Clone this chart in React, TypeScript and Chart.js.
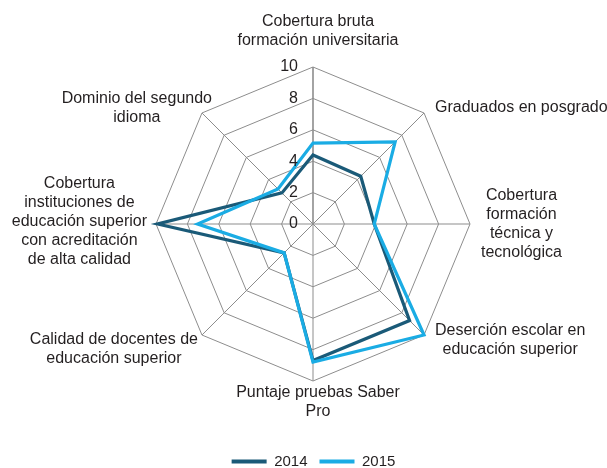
import React, { useEffect, useRef } from "react";
import { Chart, registerables } from "chart.js";

Chart.register(...registerables);

const categories: string[][] = [
  ["Cobertura bruta", "formación universitaria"],
  ["Graduados en posgrado"],
  ["Cobertura", "formación", "técnica y", "tecnológica"],
  ["Deserción escolar en", "educación superior"],
  ["Puntaje pruebas Saber", "Pro"],
  ["Calidad de docentes de", "educación superior"],
  ["Cobertura", "instituciones de", "educación superior", "con acreditación", "de alta calidad"],
  ["Dominio del segundo", "idioma"],
];

const series2014: number[] = [4.4, 4.3, 3.9, 8.7, 8.7, 2.6, 9.9, 2.8];
const series2015: number[] = [5.15, 7.4, 3.9, 10.0, 8.8, 2.6, 7.35, 3.15];

const tickValues: number[] = [0, 2, 4, 6, 8, 10];

const FONT = '"Liberation Sans", Arial, Helvetica, sans-serif';
const TEXT = "#231f20";
const GRID = "#8d8d8d";
const C2014 = "#1a5a78";
const C2015 = "#1aace4";

const labelPlugin = {
  id: "customLabels",
  afterDatasetsDraw(chart: any) {
    const scale = chart.scales.r;
    const ctx = chart.ctx;
    const xc = scale.xCenter;
    const yc = scale.yCenter;
    const r = scale.drawingArea;
    ctx.save();
    ctx.fillStyle = TEXT;
    // tick labels
    ctx.font = `16px ${FONT}`;
    ctx.textAlign = "right";
    ctx.textBaseline = "middle";
    tickValues.forEach((v) => {
      const p = scale.getPointPositionForValue(0, v);
      ctx.fillText(String(v), p.x - 15, p.y);
    });
    // point labels
    ctx.font = `16px ${FONT}`;
    ctx.textAlign = "center";
    const lh = 19;
    categories.forEach((lines, i) => {
      const pos = scale.getPointPosition(i, r);
      const ux = (pos.x - xc) / r;
      const uy = (pos.y - yc) / r;
      const W = Math.max(...lines.map((l) => ctx.measureText(l).width));
      const H = lines.length * lh;
      let cx = pos.x;
      let cy = pos.y;
      if (ux > 0.3) {
        cx = pos.x + 11 + W / 2;
        cy = pos.y + uy * 7;
      } else if (ux < -0.3) {
        let gap = 9;
        if (uy < -0.3) gap = -10;
        else if (uy > 0.3) gap = 4;
        cx = pos.x - gap - W / 2;
        cy = pos.y + (uy > 0.3 ? 14 : uy < -0.3 ? -4.5 : -2);
      } else if (uy < 0) {
        cx = pos.x + 5;
        cy = pos.y - 17 - H / 2;
      } else {
        cx = pos.x + 5;
        cy = pos.y + 2 + H / 2;
      }
      const top = cy - H / 2;
      lines.forEach((l, j) => {
        ctx.fillText(l, cx, top + lh * j + lh / 2);
      });
    });
    ctx.restore();
  },
};

export default function App() {
  const ref = useRef<HTMLCanvasElement | null>(null);
  useEffect(() => {
    if (!ref.current) return;
    const chart = new Chart(ref.current, {
      type: "radar",
      data: {
        labels: categories,
        datasets: [
          {
            label: "2014",
            data: series2014,
            borderColor: C2014,
            backgroundColor: C2014,
            borderWidth: 3.2,
            pointRadius: 0,
            fill: false,
            order: 1,
          },
          {
            label: "2015",
            data: series2015,
            borderColor: C2015,
            backgroundColor: C2015,
            borderWidth: 3.2,
            pointRadius: 0,
            fill: false,
            order: 0,
          },
        ],
      },
      options: {
        animation: false,
        responsive: true,
        maintainAspectRatio: false,
        layout: { padding: { left: 156, right: 136, top: 7, bottom: -11 } },
        elements: { line: { tension: 0, borderJoinStyle: "miter" } },
        scales: {
          r: {
            min: 0,
            max: 10,
            startAngle: 0,
            ticks: { display: false, stepSize: 2 },
            pointLabels: { display: false },
            grid: { color: GRID, lineWidth: 1, circular: false },
            angleLines: {
              color: GRID,
              lineWidth: (c: any) => (c.index === 0 ? 1.6 : 1),
            },
          },
        },
        plugins: {
          tooltip: { enabled: false },
          legend: {
            position: "bottom",
            labels: {
              font: { family: FONT, size: 15 },
              color: TEXT,
              boxWidth: 35,
              boxHeight: 4,
              padding: 12,
              sort: (a: any, b: any) => a.datasetIndex - b.datasetIndex,
              generateLabels: (ch: any) =>
                Chart.defaults.plugins.legend.labels
                  .generateLabels(ch)
                  .map((l: any) => ({ ...l, lineWidth: 0, fillStyle: l.strokeStyle })),
            },
          },
        },
      },
      plugins: [labelPlugin],
    });
    return () => chart.destroy();
  }, []);
  return (
    <div style={{ position: "absolute", left: 0, top: 0, width: 607, height: 468 }}>
      <canvas ref={ref} />
    </div>
  );
}
